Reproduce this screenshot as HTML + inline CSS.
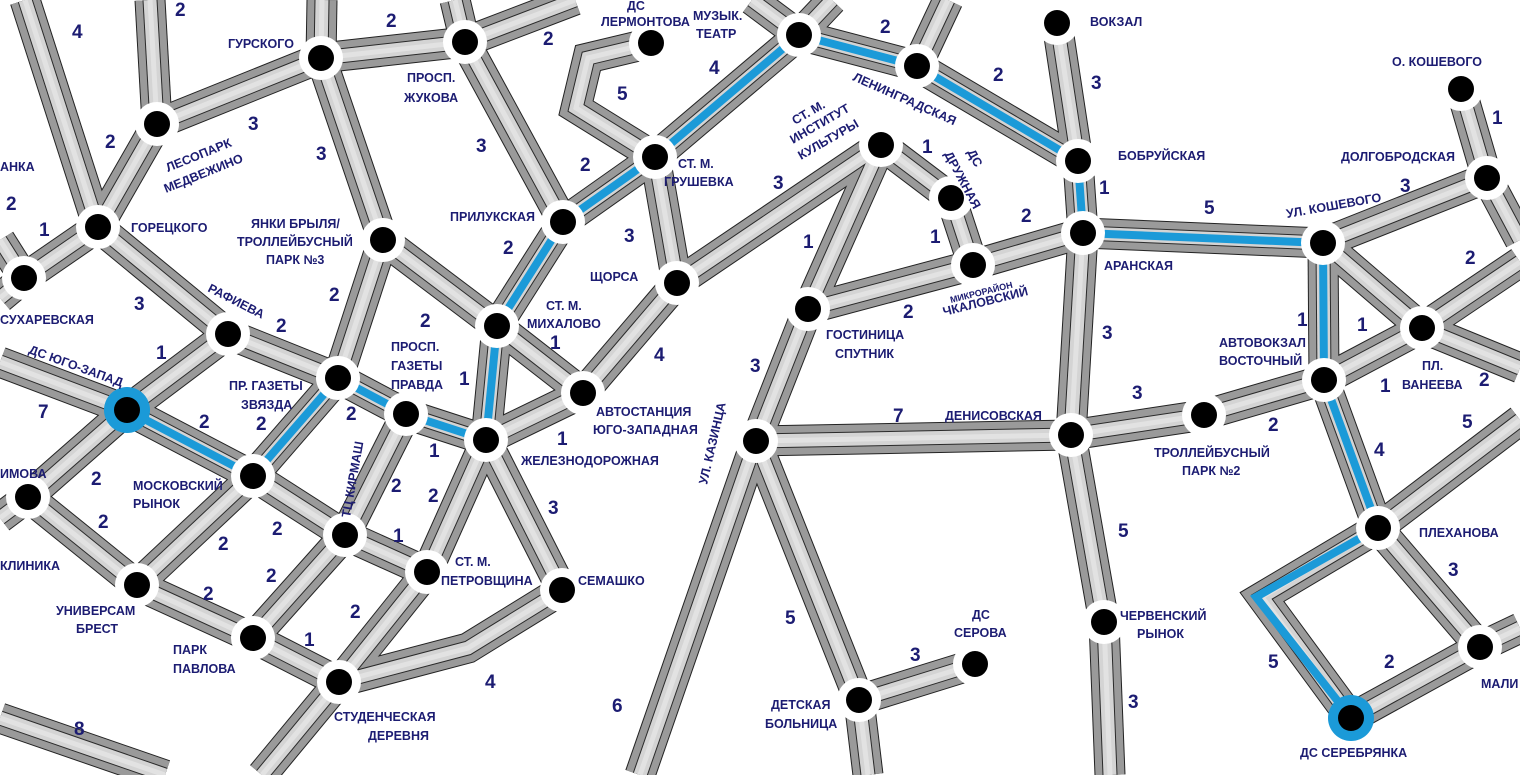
<!DOCTYPE html>
<html><head><meta charset="utf-8"><style>
html,body{margin:0;padding:0;background:#fff;width:1520px;height:775px;overflow:hidden}
svg{display:block}
.n{font-family:"Liberation Sans",sans-serif;font-weight:bold;font-size:19px;fill:#1c1c72}
.s{font-family:"Liberation Sans","Noto Sans CJK SC",sans-serif;font-size:12.5px;font-weight:bold;fill:#1c1c72}
</style></head><body>
<svg width="1520" height="775" viewBox="0 0 1520 775" xmlns="http://www.w3.org/2000/svg">
<defs>
<g id="r" fill="none">
<path d="M25,0 L98,227"/><path d="M150,0 L157,124"/><path d="M322,0 L321,58"/><path d="M455,0 L465,42"/><path d="M465,42 L575,0"/>
<path d="M321,58 L465,42"/><path d="M321,58 L157,124"/><path d="M157,124 L98,227"/><path d="M98,227 L24,278"/>
<path d="M24,278 L0,240"/><path d="M24,278 L0,298"/><path d="M98,227 L228,334"/><path d="M228,334 L338,378"/>
<path d="M228,334 L127,410"/><path d="M127,410 L0,362"/><path d="M127,410 L253,476"/><path d="M127,410 L28,497"/>
<path d="M28,497 L0,518"/><path d="M28,497 L137,585"/><path d="M253,476 L137,585"/><path d="M137,585 L253,638"/>
<path d="M253,476 L345,535"/><path d="M338,378 L253,476"/><path d="M338,378 L406,414"/><path d="M406,414 L486,440"/>
<path d="M406,414 L345,535"/><path d="M321,58 L383,240"/><path d="M383,240 L338,378"/><path d="M383,240 L497,326"/>
<path d="M465,42 L563,222"/><path d="M563,222 L497,326"/><path d="M497,326 L486,440"/><path d="M497,326 L583,393"/>
<path d="M486,440 L583,393"/><path d="M486,440 L427,572"/><path d="M486,440 L562,590"/><path d="M345,535 L427,572"/>
<path d="M345,535 L253,638"/><path d="M253,638 L339,682"/><path d="M427,572 L339,682"/><path d="M562,590 L468,648 L339,682"/>
<path d="M339,682 L262,775"/><path d="M0,718 L165,775"/>
<path d="M563,222 L655,157"/><path d="M655,157 L799,35"/><path d="M651,43 L588,58 L576,108 L655,157"/>
<path d="M655,157 L677,283"/><path d="M677,283 L583,393"/><path d="M677,283 L881,145"/>
<path d="M799,35 L752,0"/><path d="M799,35 L832,0"/><path d="M917,66 L948,0"/><path d="M799,35 L917,66"/>
<path d="M917,66 L1078,161"/><path d="M1057,23 L1078,161"/><path d="M1078,161 L1083,233"/><path d="M1083,233 L973,265"/>
<path d="M973,265 L951,198"/><path d="M951,198 L881,145"/><path d="M881,145 L808,309"/><path d="M973,265 L808,309"/>
<path d="M808,309 L756,441"/><path d="M756,441 L1071,435"/><path d="M1083,233 L1071,435"/><path d="M1071,435 L1204,415"/>
<path d="M1204,415 L1324,380"/><path d="M1071,435 L1104,622"/><path d="M1104,622 L1110,775"/><path d="M756,441 L640,775"/>
<path d="M756,441 L859,700"/><path d="M859,700 L975,664"/><path d="M859,700 L868,775"/>
<path d="M1083,233 L1323,243"/><path d="M1323,243 L1487,178"/><path d="M1487,178 L1461,89"/><path d="M1487,178 L1520,240"/>
<path d="M1323,243 L1324,380"/><path d="M1323,243 L1422,328 L1520,368"/><path d="M1324,380 L1422,328 L1520,262"/>
<path d="M1324,380 L1378,528"/><path d="M1378,528 L1520,420"/><path d="M1378,528 L1480,647"/><path d="M1480,647 L1351,718"/>
<path d="M1351,718 L1262,597 L1378,528"/><path d="M1480,647 L1520,628"/>
</g>
<g id="b" fill="none">
<path d="M655,157 L563,222 L497,326 L486,440 L406,414 L338,378 L253,476 L127,410"/>
<path d="M655,157 L799,35 L917,66 L1078,161 L1083,233 L1323,243 L1324,380 L1378,528 L1256,597 L1351,718"/>
</g>
<g id="nd"><circle r="22" fill="#fff"/><circle r="13" fill="#000"/></g>
</defs>
<use href="#r" stroke="#222" stroke-width="31"/>
<use href="#r" stroke="#9a9a9a" stroke-width="29"/>
<use href="#r" stroke="#2a2a2a" stroke-width="15"/>
<use href="#r" stroke="#d4d4d4" stroke-width="13"/>
<use href="#r" stroke="#e2e2e2" stroke-width="5"/>
<use href="#b" stroke="#1b9ad8" stroke-width="8" stroke-linejoin="miter"/>
<g>
<use href="#nd" x="321" y="58"/><use href="#nd" x="465" y="42"/><use href="#nd" x="157" y="124"/><use href="#nd" x="98" y="227"/>
<use href="#nd" x="24" y="278"/><use href="#nd" x="383" y="240"/><use href="#nd" x="228" y="334"/>
<use href="#nd" x="338" y="378"/><use href="#nd" x="406" y="414"/><use href="#nd" x="253" y="476"/><use href="#nd" x="28" y="497"/>
<use href="#nd" x="345" y="535"/><use href="#nd" x="427" y="572"/><use href="#nd" x="137" y="585"/><use href="#nd" x="253" y="638"/>
<use href="#nd" x="339" y="682"/><use href="#nd" x="562" y="590"/><use href="#nd" x="486" y="440"/><use href="#nd" x="497" y="326"/>
<use href="#nd" x="563" y="222"/><use href="#nd" x="655" y="157"/><use href="#nd" x="651" y="43"/><use href="#nd" x="799" y="35"/>
<use href="#nd" x="917" y="66"/><use href="#nd" x="1057" y="23"/><use href="#nd" x="1078" y="161"/><use href="#nd" x="1083" y="233"/>
<use href="#nd" x="677" y="283"/><use href="#nd" x="583" y="393"/><use href="#nd" x="881" y="145"/><use href="#nd" x="951" y="198"/>
<use href="#nd" x="973" y="265"/><use href="#nd" x="808" y="309"/><use href="#nd" x="756" y="441"/><use href="#nd" x="1071" y="435"/>
<use href="#nd" x="1204" y="415"/><use href="#nd" x="1104" y="622"/><use href="#nd" x="859" y="700"/><use href="#nd" x="975" y="664"/>
<use href="#nd" x="1323" y="243"/><use href="#nd" x="1487" y="178"/><use href="#nd" x="1461" y="89"/><use href="#nd" x="1422" y="328"/>
<use href="#nd" x="1324" y="380"/><use href="#nd" x="1378" y="528"/><use href="#nd" x="1480" y="647"/>
<circle cx="127" cy="410" r="23" fill="#1b9ad8"/><circle cx="127" cy="410" r="13" fill="#000"/>
<circle cx="1351" cy="718" r="23" fill="#1b9ad8"/><circle cx="1351" cy="718" r="13" fill="#000"/>
</g>
<g class="n">
<text x="72" y="38">4</text><text x="175" y="16">2</text><text x="386" y="27">2</text><text x="543" y="45">2</text>
<text x="248" y="130">3</text><text x="105" y="148">2</text><text x="316" y="160">3</text><text x="476" y="152">3</text>
<text x="6" y="210">2</text><text x="39" y="236">1</text><text x="134" y="310">3</text><text x="276" y="332">2</text>
<text x="156" y="359">1</text><text x="38" y="418">7</text><text x="199" y="428">2</text><text x="256" y="430">2</text>
<text x="329" y="301">2</text><text x="420" y="327">2</text><text x="503" y="254">2</text><text x="580" y="171">2</text>
<text x="624" y="242">3</text><text x="617" y="100">5</text><text x="709" y="74">4</text><text x="880" y="33">2</text>
<text x="993" y="81">2</text><text x="1091" y="89">3</text><text x="1099" y="194">1</text><text x="1021" y="222">2</text>
<text x="922" y="153">1</text><text x="930" y="243">1</text><text x="803" y="248">1</text><text x="773" y="189">3</text>
<text x="903" y="318">2</text><text x="654" y="361">4</text><text x="550" y="349">1</text><text x="459" y="385">1</text>
<text x="346" y="420">2</text><text x="429" y="457">1</text><text x="557" y="445">1</text><text x="91" y="485">2</text>
<text x="98" y="528">2</text><text x="218" y="550">2</text><text x="272" y="535">2</text><text x="391" y="492">2</text>
<text x="428" y="502">2</text><text x="548" y="514">3</text><text x="393" y="542">1</text><text x="266" y="582">2</text>
<text x="203" y="600">2</text><text x="350" y="618">2</text><text x="304" y="646">1</text><text x="485" y="688">4</text>
<text x="74" y="735">8</text><text x="612" y="712">6</text><text x="750" y="372">3</text><text x="893" y="422">7</text>
<text x="785" y="624">5</text><text x="910" y="661">3</text><text x="1102" y="339">3</text><text x="1132" y="399">3</text>
<text x="1268" y="431">2</text><text x="1118" y="537">5</text><text x="1128" y="708">3</text><text x="1204" y="214">5</text>
<text x="1400" y="192">3</text><text x="1492" y="124">1</text><text x="1297" y="326">1</text><text x="1357" y="331">1</text>
<text x="1465" y="264">2</text><text x="1380" y="392">1</text><text x="1479" y="386">2</text><text x="1462" y="428">5</text>
<text x="1374" y="456">4</text><text x="1448" y="576">3</text><text x="1384" y="668">2</text><text x="1268" y="668">5</text>
</g>
<g class="s">
<text x="228" y="48">ГУРСКОГО</text>
<text x="407" y="82">ПРОСП.</text><text x="404" y="102">ЖУКОВА</text>
<text transform="translate(168,172) rotate(-22)">ЛЕСОПАРК</text><text transform="translate(166,193) rotate(-22)">МЕДВЕЖИНО</text>
<text x="0" y="171">АНКА</text>
<text x="131" y="232">ГОРЕЦКОГО</text>
<text x="251" y="228">ЯНКИ БРЫЛЯ/</text><text x="237" y="246">ТРОЛЛЕЙБУСНЫЙ</text><text x="266" y="264">ПАРК №3</text>
<text x="0" y="324">СУХАРЕВСКАЯ</text>
<text transform="translate(207,291) rotate(27)">РАФИЕВА</text>
<text transform="translate(28,353) rotate(20)">ДС ЮГО-ЗАПАД</text>
<text x="229" y="390">ПР. ГАЗЕТЫ</text><text x="241" y="409">ЗВЯЗДА</text>
<text x="391" y="351">ПРОСП.</text><text x="391" y="370">ГАЗЕТЫ</text><text x="391" y="389">ПРАВДА</text>
<text x="450" y="221">ПРИЛУКСКАЯ</text>
<text x="546" y="310">СТ. М.</text><text x="527" y="328">МИХАЛОВО</text>
<text x="133" y="490">МОСКОВСКИЙ</text><text x="133" y="508">РЫНОК</text>
<text x="0" y="478">ИМОВА</text><text x="0" y="570">КЛИНИКА</text>
<text transform="translate(350,518) rotate(-80)">ТЦ КИРМАШ</text>
<text x="455" y="566">СТ. М.</text><text x="441" y="585">ПЕТРОВЩИНА</text>
<text x="578" y="585">СЕМАШКО</text>
<text x="56" y="615">УНИВЕРСАМ</text><text x="76" y="633">БРЕСТ</text>
<text x="173" y="654">ПАРК</text><text x="173" y="673">ПАВЛОВА</text>
<text x="334" y="721">СТУДЕНЧЕСКАЯ</text><text x="368" y="740">ДЕРЕВНЯ</text>
<text x="521" y="465">ЖЕЛЕЗНОДОРОЖНАЯ</text>
<text x="596" y="416">АВТОСТАНЦИЯ</text><text x="593" y="434">ЮГО-ЗАПАДНАЯ</text>
<text x="590" y="281">ЩОРСА</text>
<text x="678" y="168">СТ. М.</text><text x="664" y="186">ГРУШЕВКА</text>
<text x="627" y="10">ДС</text><text x="601" y="26">ЛЕРМОНТОВА</text>
<text x="693" y="20">МУЗЫК.</text><text x="696" y="38">ТЕАТР</text>
<text transform="translate(852,80) rotate(24)">ЛЕНИНГРАДСКАЯ</text>
<text transform="translate(795,125) rotate(-30)">СТ. М.</text><text transform="translate(793,144) rotate(-30)">ИНСТИТУТ</text><text transform="translate(801,160) rotate(-30)">КУЛЬТУРЫ</text>
<text transform="translate(967,152) rotate(62)">ДС</text><text transform="translate(944,154) rotate(62)">ДРУЖНАЯ</text>
<text transform="translate(951,303) rotate(-14)" style="font-size:9px">МИКРОРАЙОН</text>
<text transform="translate(944,316) rotate(-14)">ЧКАЛОВСКИЙ</text>
<text x="826" y="339">ГОСТИНИЦА</text><text x="835" y="358">СПУТНИК</text>
<text transform="translate(707,485) rotate(-77)">УЛ. КАЗИНЦА</text>
<text x="945" y="420">ДЕНИСОВСКАЯ</text>
<text x="1090" y="26">ВОКЗАЛ</text>
<text x="1118" y="160">БОБРУЙСКАЯ</text>
<text x="1104" y="270">АРАНСКАЯ</text>
<text x="1154" y="457">ТРОЛЛЕЙБУСНЫЙ</text><text x="1182" y="475">ПАРК №2</text>
<text x="1120" y="620">ЧЕРВЕНСКИЙ</text><text x="1137" y="638">РЫНОК</text>
<text x="972" y="619">ДС</text><text x="954" y="637">СЕРОВА</text>
<text x="771" y="709">ДЕТСКАЯ</text><text x="765" y="728">БОЛЬНИЦА</text>
<text x="1392" y="66">О. КОШЕВОГО</text>
<text x="1341" y="161">ДОЛГОБРОДСКАЯ</text>
<text transform="translate(1287,218) rotate(-10)">УЛ. КОШЕВОГО</text>
<text x="1219" y="347">АВТОВОКЗАЛ</text><text x="1219" y="365">ВОСТОЧНЫЙ</text>
<text x="1422" y="370">ПЛ.</text><text x="1402" y="389">ВАНЕЕВА</text>
<text x="1419" y="537">ПЛЕХАНОВА</text>
<text x="1481" y="688">МАЛИ</text>
<text x="1300" y="757">ДС СЕРЕБРЯНКА</text>
</g>
</svg>
</body></html>
